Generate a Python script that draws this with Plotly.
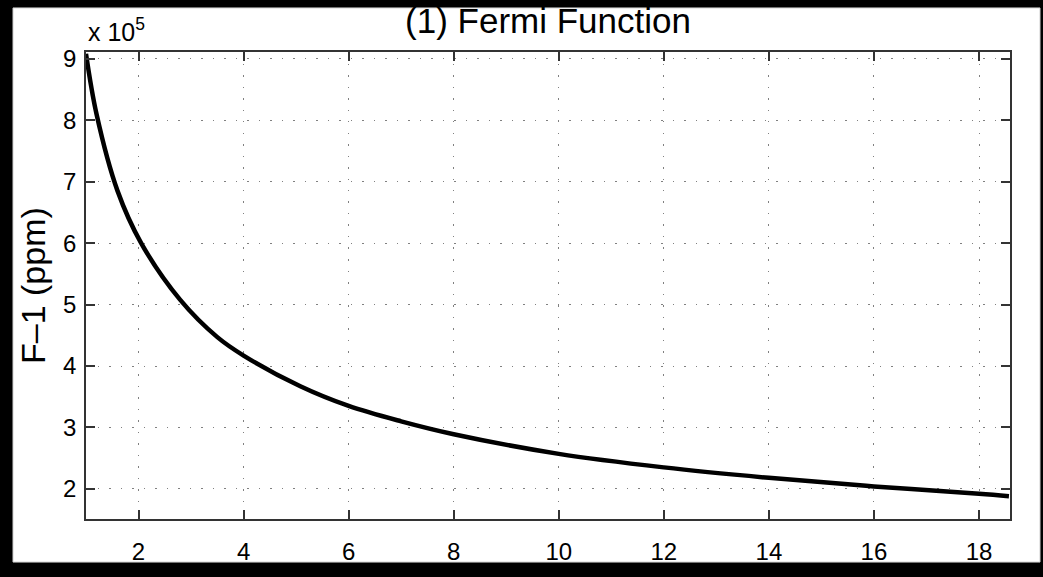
import plotly.graph_objects as go

# Data (x vs F-1 in ppm)
x_vals = [1.0, 1.2, 1.6, 2.05, 2.79, 3.5, 4.0, 5.08, 6.0, 7.0, 8.0, 10.0, 12.0, 14.0, 16.0, 18.0, 18.57]
f_minus_1_ppm = [908000, 810000, 685000, 600000, 508000, 447000, 417000, 367000, 335000, 310000,
                 289000, 257000, 235000, 218000, 204000, 192000, 188000]
scale = 1e5
x_ticks = [2, 4, 6, 8, 10, 12, 14, 16, 18]
y_ticks = [2, 3, 4, 5, 6, 7, 8, 9]

title_text = "(1) Fermi Function"
y_title = "F\u20131 (ppm)"
multiplier = "x 10<sup>5</sup>"

W, H = 1043, 577
L, R, T, B = 86, 33, 52, 48
pw, ph = W - L - R, H - T - B

def px_to_paper_x(px):
    return (px - L) / pw

def px_to_paper_y(py):
    return (H - B - py) / ph

font_fam = "Arial"

fig = go.Figure()
fig.add_trace(go.Scatter(
    x=x_vals, y=[v / scale for v in f_minus_1_ppm],
    mode="lines", line=dict(color="black", width=4.5, shape="spline", smoothing=1.0),
    hoverinfo="x+y", showlegend=False,
))

axis_common = dict(
    showline=True, linecolor="#333333", linewidth=1.5, mirror="ticks",
    ticks="inside", ticklen=9, tickwidth=1.5, tickcolor="#333333",
    showgrid=True, gridcolor="#808080", gridwidth=1, griddash="1.5px,10px",
    zeroline=False,
    tickfont=dict(family=font_fam, size=24, color="black"),
)

fig.update_xaxes(range=[1.0, 18.59], tickvals=x_ticks, ticktext=[str(t) for t in x_ticks],
                 ticklabelstandoff=10, **axis_common)
fig.update_yaxes(range=[1.51, 9.11], tickvals=y_ticks, ticktext=[str(t) for t in y_ticks],
                 ticklabelstandoff=3, **axis_common)

fig.update_layout(
    width=W, height=H,
    margin=dict(l=L, r=R, t=T, b=B, pad=0),
    paper_bgcolor="black", plot_bgcolor="white",
    title=dict(text=title_text, x=548 / W, xanchor="center",
               y=1 - 21 / H, yanchor="middle", yref="container",
               font=dict(family=font_fam, size=35, color="black")),
    shapes=[dict(type="rect", xref="paper", yref="paper", layer="below",
                 x0=px_to_paper_x(13), x1=px_to_paper_x(1040),
                 y0=px_to_paper_y(573), y1=px_to_paper_y(7),
                 fillcolor="white", line=dict(color="#cfcfcf", width=1))],
    annotations=[
        dict(text=multiplier, xref="paper", yref="paper", x=0, xanchor="left",
             y=px_to_paper_y(30), yanchor="middle", showarrow=False,
             font=dict(family=font_fam, size=25, color="black")),
        dict(text=y_title, xref="paper", yref="paper", x=px_to_paper_x(33), xanchor="center",
             y=px_to_paper_y(291), yanchor="middle", textangle=-90, showarrow=False,
             font=dict(family=font_fam, size=34, color="black")),
    ],
)

fig.write_html("out.html")
